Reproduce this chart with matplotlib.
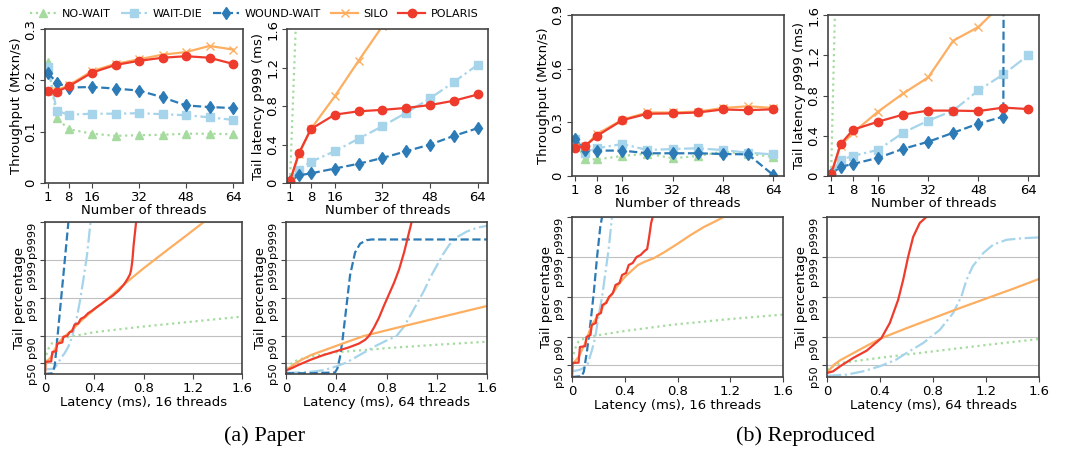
import matplotlib
matplotlib.use("Agg")
import matplotlib.pyplot as plt
import numpy as np

# thread counts on the x axis of the top row
threads = [1, 4, 8, 16, 24, 32, 40, 48, 56, 64]
schemes = ["NO-WAIT", "WAIT-DIE", "WOUND-WAIT", "SILO", "POLARIS"]

# (a) paper - throughput (Mtxn/s)
paper_tput = {
    "NO-WAIT":    [0.235, 0.127, 0.105, 0.096, 0.092, 0.093, 0.094, 0.096, 0.096, 0.095],
    "WAIT-DIE":   [0.225, 0.141, 0.133, 0.135, 0.135, 0.136, 0.134, 0.132, 0.128, 0.123],
    "WOUND-WAIT": [0.215, 0.195, 0.186, 0.187, 0.184, 0.180, 0.167, 0.151, 0.148, 0.146],
    "SILO":       [0.180, 0.180, 0.190, 0.218, 0.232, 0.241, 0.250, 0.255, 0.267, 0.260],
    "POLARIS":    [0.180, 0.178, 0.188, 0.215, 0.230, 0.238, 0.244, 0.247, 0.244, 0.232],
}
# (a) paper - p999 latency (ms)
paper_p999 = {
    "NO-WAIT":    [0.02, 2.5, 5.0, 9.0, 12.0, 15.0, 18.0, 20.0, 22.0, 24.0],
    "WAIT-DIE":   [0.02, 0.14, 0.22, 0.33, 0.46, 0.59, 0.73, 0.88, 1.05, 1.23],
    "WOUND-WAIT": [0.02, 0.08, 0.10, 0.15, 0.20, 0.26, 0.33, 0.40, 0.49, 0.57],
    "SILO":       [0.02, 0.30, 0.56, 0.90, 1.27, 1.63, 2.0, 2.4, 2.8, 3.2],
    "POLARIS":    [0.02, 0.31, 0.56, 0.71, 0.745, 0.76, 0.78, 0.81, 0.855, 0.92],
}
# (b) reproduced - throughput (Mtxn/s)
repro_tput = {
    "NO-WAIT":    [0.20, 0.093, 0.093, 0.112, 0.125, 0.099, 0.112, 0.136, 0.123, 0.108],
    "WAIT-DIE":   [0.205, 0.13, 0.155, 0.179, 0.145, 0.151, 0.155, 0.145, 0.13, 0.121],
    "WOUND-WAIT": [0.205, 0.145, 0.142, 0.142, 0.127, 0.127, 0.127, 0.123, 0.121, 0.005],
    "SILO":       [0.16, 0.165, 0.235, 0.315, 0.355, 0.355, 0.36, 0.38, 0.39, 0.38],
    "POLARIS":    [0.158, 0.165, 0.225, 0.312, 0.348, 0.35, 0.355, 0.372, 0.368, 0.373],
}
# (b) reproduced - p999 latency (ms)
repro_p999 = {
    "NO-WAIT":    [0.02, 4.0, 6.0, 10.0, 13.0, 16.0, 19.0, 21.0, 23.0, 25.0],
    "WAIT-DIE":   [0.02, 0.16, 0.20, 0.26, 0.43, 0.55, 0.65, 0.85, 1.01, 1.20],
    "WOUND-WAIT": [0.02, 0.09, 0.12, 0.18, 0.27, 0.34, 0.43, 0.52, 0.59, 100.0],
    "SILO":       [0.02, 0.30, 0.43, 0.64, 0.82, 0.98, 1.345, 1.48, 1.72, 2.0],
    "POLARIS":    [0.02, 0.315, 0.46, 0.54, 0.61, 0.65, 0.65, 0.645, 0.68, 0.665],
}

# latency CDF tails: (latency ms, tail level in "nines": p50=0.3, p90=1, p99=2, p999=3, p9999=4)
paper_cdf16 = {
    "NO-WAIT": ([0, 0.01, 0.03, 0.06, 0.1, 0.2, 0.4, 0.8, 1.2, 1.6],
                [0.35, 0.5, 0.68, 0.82, 0.9, 0.98, 1.1, 1.25, 1.38, 1.51]),
    "WAIT-DIE": ([0, 0.07, 0.1, 0.13, 0.16, 0.19, 0.22, 0.25, 0.28, 0.31, 0.34, 0.37],
                 [0.12, 0.14, 0.25, 0.42, 0.55, 0.72, 0.98, 1.35, 1.85, 2.45, 3.1, 4.0]),
    "WOUND-WAIT": ([0, 0.065, 0.08, 0.1, 0.13, 0.16, 0.19],
                   [0, 0.02, 0.25, 0.93, 1.95, 2.97, 4.0]),
    "SILO": ([0, 0.005, 0.05, 0.1, 0.15, 0.2, 0.3, 0.4, 0.5, 0.62, 0.8, 1.0, 1.15, 1.29],
             [0, 0.3, 0.45, 0.78, 0.97, 1.1, 1.42, 1.7, 1.95, 2.3, 2.78, 3.28, 3.65, 4.0]),
    "POLARIS": ([0, 0.003, 0.05, 0.06, 0.09, 0.1, 0.14, 0.15, 0.18, 0.2, 0.22, 0.24, 0.27, 0.29,
                 0.32, 0.35, 0.38, 0.42, 0.46, 0.5, 0.55, 0.6, 0.64, 0.67, 0.69, 0.70, 0.71, 0.72, 0.74],
                [0, 0.32, 0.33, 0.58, 0.6, 0.8, 0.83, 0.98, 1.0, 1.1, 1.12, 1.3, 1.33, 1.45,
                 1.5, 1.6, 1.66, 1.76, 1.85, 1.95, 2.06, 2.2, 2.35, 2.5, 2.62, 2.75, 3.0, 3.4, 4.0]),
}
paper_cdf64 = {
    "NO-WAIT": ([0, 0.05, 0.1, 0.2, 0.4, 0.8, 1.2, 1.6],
                [0.15, 0.3, 0.38, 0.46, 0.57, 0.68, 0.77, 0.85]),
    "WAIT-DIE": ([0, 0.1, 0.2, 0.3, 0.4, 0.48, 0.56, 0.64, 0.72, 0.8, 0.88, 0.94, 1.0, 1.05,
                  1.1, 1.15, 1.2, 1.25, 1.3, 1.36, 1.44, 1.52, 1.6],
                 [0.03, 0.04, 0.06, 0.1, 0.2, 0.3, 0.45, 0.6, 0.75, 0.88, 1.0, 1.25, 1.6, 1.9,
                  2.2, 2.55, 2.85, 3.15, 3.4, 3.6, 3.75, 3.85, 3.9]),
    "WOUND-WAIT": ([0, 0.2, 0.39, 0.41, 0.43, 0.45, 0.48, 0.51, 0.55, 0.59, 0.64, 0.68, 1.6],
                   [0.02, 0.02, 0.04, 0.15, 0.45, 0.9, 1.75, 2.6, 3.2, 3.43, 3.52, 3.54, 3.54]),
    "SILO": ([0, 0.02, 0.05, 0.1, 0.15, 0.2, 0.3, 0.4, 0.5, 0.62, 0.8, 1.0, 1.2, 1.4, 1.6],
             [0.1, 0.15, 0.22, 0.33, 0.42, 0.5, 0.62, 0.74, 0.86, 1.0, 1.15, 1.31, 1.47, 1.63, 1.79]),
    "POLARIS": ([0, 0.005, 0.05, 0.1, 0.2, 0.3, 0.4, 0.5, 0.58, 0.63, 0.66, 0.7, 0.74, 0.78,
                 0.82, 0.86, 0.9, 0.94, 0.97, 1.0],
                [0.05, 0.1, 0.16, 0.24, 0.38, 0.5, 0.6, 0.7, 0.8, 0.9, 1.0, 1.22, 1.48, 1.8,
                 2.1, 2.4, 2.75, 3.2, 3.6, 4.0]),
}
repro_cdf16 = {
    "NO-WAIT": ([0, 0.025, 0.05, 0.114, 0.4, 0.77, 1.2, 1.6],
                [0.43, 0.72, 0.89, 1.0, 1.15, 1.31, 1.45, 1.56]),
    "WAIT-DIE": ([0, 0.06, 0.114, 0.152, 0.177, 0.2, 0.228, 0.253, 0.278, 0.296, 0.303],
                 [0.14, 0.18, 0.27, 0.68, 1.0, 1.5, 2.0, 2.6, 3.2, 3.77, 4.0]),
    "WOUND-WAIT": ([0, 0.075, 0.09, 0.115, 0.14, 0.165, 0.19, 0.215, 0.228],
                   [0, 0.02, 0.14, 0.68, 1.35, 2.1, 3.0, 3.77, 4.0]),
    "SILO": ([0, 0.005, 0.05, 0.1, 0.15, 0.2, 0.25, 0.3, 0.35, 0.4, 0.45, 0.5, 0.55, 0.62,
              0.7, 0.8, 0.9, 1.0, 1.08, 1.15],
             [0, 0.33, 0.5, 0.85, 1.3, 1.55, 1.85, 2.05, 2.3, 2.5, 2.65, 2.8, 2.88, 2.97,
              3.12, 3.33, 3.55, 3.75, 3.88, 4.0]),
    "POLARIS": ([0, 0.003, 0.05, 0.06, 0.1, 0.11, 0.14, 0.15, 0.18, 0.19, 0.22, 0.23, 0.26, 0.28,
                 0.31, 0.33, 0.36, 0.38, 0.41, 0.43, 0.46, 0.49, 0.52, 0.55, 0.57, 0.585, 0.6, 0.612],
                [0, 0.35, 0.36, 0.75, 0.77, 1.0, 1.05, 1.3, 1.35, 1.55, 1.6, 1.8, 1.85, 2.0,
                 2.1, 2.3, 2.35, 2.55, 2.6, 2.8, 2.85, 3.0, 3.05, 3.15, 3.2, 3.5, 3.85, 4.0]),
}
repro_cdf64 = {
    "NO-WAIT": ([0, 0.05, 0.1, 0.4, 0.8, 1.2, 1.6],
                [0.18, 0.27, 0.35, 0.48, 0.64, 0.8, 0.95]),
    "WAIT-DIE": ([0, 0.15, 0.27, 0.4, 0.52, 0.6, 0.726, 0.852, 0.952, 1.015, 1.053, 1.1, 1.18,
                  1.255, 1.355, 1.48, 1.6],
                 [0.03, 0.06, 0.14, 0.27, 0.43, 0.6, 0.85, 1.18, 1.6, 2.02, 2.43, 2.77, 3.1,
                  3.31, 3.43, 3.47, 3.49]),
    "SILO": ([0, 0.02, 0.05, 0.1, 0.2, 0.3, 0.41, 0.6, 0.8, 1.0, 1.2, 1.4, 1.6],
             [0.12, 0.18, 0.3, 0.42, 0.6, 0.78, 0.97, 1.22, 1.47, 1.72, 1.96, 2.2, 2.45]),
    "POLARIS": ([0, 0.045, 0.1, 0.2, 0.3, 0.41, 0.474, 0.537, 0.575, 0.612, 0.65, 0.7, 0.75],
                [0.1, 0.14, 0.27, 0.48, 0.66, 0.97, 1.35, 1.93, 2.43, 3.0, 3.5, 3.85, 4.0]),
}

tail_labels = ["p50", "p90", "p99", "p999", "p9999"]
tail_pcts = [0.5, 0.9, 0.99, 0.999, 0.9999]

colors = {"NO-WAIT": "#a6dba0", "WAIT-DIE": "#a6d4ea", "WOUND-WAIT": "#2c7bb6",
          "SILO": "#fdae61", "POLARIS": "#ef3b2c"}
markers = {"NO-WAIT": "^", "WAIT-DIE": "s", "WOUND-WAIT": "d", "SILO": "x", "POLARIS": "o"}
lstyles = {"NO-WAIT": ":", "WAIT-DIE": "-.", "WOUND-WAIT": "--", "SILO": "-", "POLARIS": "-"}
msizes = {"NO-WAIT": 5.5, "WAIT-DIE": 5.5, "WOUND-WAIT": 6.5, "SILO": 6, "POLARIS": 6}

W, H = 1073, 454
fig = plt.figure(figsize=(W / 100, H / 100), dpi=100)


def box(l, r, t, b):
    return [l / W, 1 - b / H, (r - l) / W, (b - t) / H]


def style(ax):
    for s in ax.spines.values():
        s.set_color("#444444")
        s.set_linewidth(1.2)
    ax.tick_params(labelsize=9.5, length=3.5, color="#444444", pad=2)


def top_plot(ax, data, ymax, yticks, ylabels, ylabel):
    for name in schemes:
        ax.plot(threads, data[name], color=colors[name], ls=lstyles[name], lw=1.6,
                marker=markers[name], ms=msizes[name], label=name)
    ax.set_xlim(0, 67.4)
    ax.set_ylim(0, ymax)
    ax.set_xticks([1, 8, 16, 32, 48, 64])
    ax.set_yticks(yticks)
    ax.set_yticklabels(ylabels, rotation=90, va="center")
    ax.set_xlabel("Number of threads", fontsize=9.5, labelpad=0)
    ax.set_ylabel(ylabel, fontsize=9.5, labelpad=1)
    style(ax)


def cdf_plot(ax, data, nthreads):
    ticks = [-np.log10(1 - p) for p in tail_pcts]
    ax.yaxis.grid(True, color="#c0c0c0", lw=0.8)
    ax.set_axisbelow(True)
    for name in schemes:
        if name not in data:
            continue
        lat, tail = data[name]
        ax.plot(lat, tail, color=colors[name], ls=lstyles[name], lw=1.6)
    ax.set_xlim(0, 1.6)
    ax.set_ylim(0, 4)
    ax.set_xticks([0, 0.4, 0.8, 1.2, 1.6])
    ax.set_xticklabels(["0", "0.4", "0.8", "1.2", "1.6"])
    ax.set_xlabel("Latency (ms), %d threads" % nthreads, fontsize=9.5, labelpad=1)
    ax.set_ylabel("Tail percentage", fontsize=9.5, labelpad=1)
    style(ax)
    ax.set_yticks(ticks)
    ax.set_yticklabels(tail_labels, rotation=90, va="top", fontsize=8.2)


lat_ticks = [0, 0.4, 0.8, 1.2, 1.6]
lat_labels = ["0", "0.4", "0.8", "1.2", "1.6"]

ax1 = fig.add_axes(box(45, 243, 29, 183))
top_plot(ax1, paper_tput, 0.3, [0, 0.1, 0.2, 0.3], ["0", "0.1", "0.2", "0.3"], "Throughput (Mtxn/s)")
ax2 = fig.add_axes(box(287, 488, 29, 183))
top_plot(ax2, paper_p999, 1.6, lat_ticks, lat_labels, "Tail latency p999 (ms)")
ax3 = fig.add_axes(box(572, 784, 15, 176))
top_plot(ax3, repro_tput, 0.9, [0, 0.3, 0.6, 0.9], ["0", "0.3", "0.6", "0.9"], "Throughput (Mtxn/s)")
ax4 = fig.add_axes(box(828, 1039, 15, 176))
top_plot(ax4, repro_p999, 1.6, lat_ticks, lat_labels, "Tail latency p999 (ms)")

cdf_plot(fig.add_axes(box(45, 242, 222, 374)), paper_cdf16, 16)
cdf_plot(fig.add_axes(box(286, 487, 222, 374)), paper_cdf64, 64)
cdf_plot(fig.add_axes(box(572, 783, 217, 377)), repro_cdf16, 16)
cdf_plot(fig.add_axes(box(827, 1039, 217, 377)), repro_cdf64, 64)

handles, labels = ax1.get_legend_handles_labels()
fig.legend(handles, labels, loc="center", bbox_to_anchor=(254 / W, 1 - 14 / H), ncol=5,
           frameon=False, fontsize=8, handlelength=2.4, columnspacing=0.9, handletextpad=0.5)

fig.text(264 / W, 1 - 436 / H, "(a) Paper", ha="center", va="center",
         fontsize=16, family="Liberation Serif")
fig.text(805 / W, 1 - 436 / H, "(b) Reproduced", ha="center", va="center",
         fontsize=16, family="Liberation Serif")

fig.savefig("out.png", dpi=100)
